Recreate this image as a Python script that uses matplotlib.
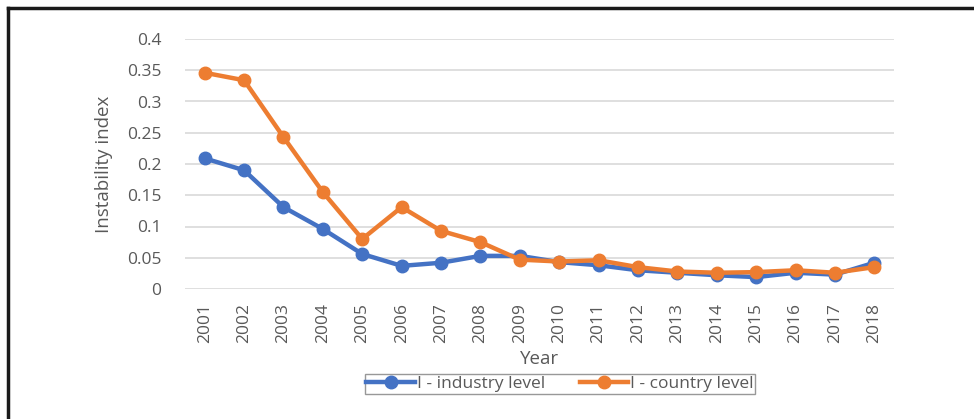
import matplotlib
matplotlib.use("Agg")
import matplotlib.pyplot as plt
from matplotlib.lines import Line2D

years = [str(y) for y in range(2001, 2019)]
industry = [0.209, 0.190, 0.131, 0.096, 0.056, 0.037, 0.042, 0.053, 0.053,
            0.043, 0.038, 0.030, 0.026, 0.022, 0.019, 0.026, 0.023, 0.042]
country = [0.346, 0.334, 0.243, 0.155, 0.080, 0.131, 0.093, 0.075, 0.047,
           0.044, 0.046, 0.035, 0.028, 0.026, 0.027, 0.030, 0.026, 0.035]
yticks = [0, 0.05, 0.1, 0.15, 0.2, 0.25, 0.3, 0.35, 0.4]
ytick_labels = ["0", "0.05", "0.1", "0.15", "0.2", "0.25", "0.3", "0.35", "0.4"]

plt.rcParams['font.family'] = ['Open Sans', 'DejaVu Sans']
W, H = 974, 419
fig = plt.figure(figsize=(W / 100, H / 100), dpi=100)
ax = fig.add_axes([185 / W, 1 - 289 / H, (894 - 185) / W, (289 - 39) / H])

x = list(range(len(years)))
ax.plot(x, industry, color='#4472C4', lw=3.2, marker='o', ms=9, label='I - industry level', zorder=3)
ax.plot(x, country, color='#ED7D31', lw=3.2, marker='o', ms=9, label='I - country level', zorder=4)

ax.set_xlim(-0.5, len(years) - 0.5)
ax.set_ylim(0, 0.4)
ax.set_yticks(yticks)
ax.set_yticklabels(ytick_labels)
ax.set_xticks(x)
ax.set_xticklabels(years, rotation=90)
ax.tick_params(axis='both', length=0, labelsize=12.5, colors='#595959')
ax.tick_params(axis='x', pad=10)
ax.tick_params(axis='y', pad=17)
ax.grid(axis='y', color='#d9d9d9', lw=1.2)
ax.set_axisbelow(True)
for s in ax.spines.values():
    s.set_visible(False)
ax.set_ylabel('Instability index', fontsize=13.5, color='#595959', labelpad=10)
ax.set_xlabel('Year', fontsize=13.5, color='#595959', labelpad=5)

leg = fig.legend(loc='center', bbox_to_anchor=(560 / W, 1 - 384 / H), ncol=2,
                 fontsize=12.5, frameon=True, fancybox=False, handlelength=2.8,
                 handletextpad=0.1, columnspacing=2.0, borderpad=0.1,
                 labelcolor='#595959')
leg.get_frame().set_edgecolor('#7f7f7f')
leg.get_frame().set_linewidth(1.0)

# outer black frame (top and left)
fig.add_artist(Line2D([7.5 / W, 1], [1 - 8.5 / H, 1 - 8.5 / H], color='#1a1a1a', lw=2.5, transform=fig.transFigure))
fig.add_artist(Line2D([7.5 / W, 7.5 / W], [0, 1 - 8.5 / H], color='#1a1a1a', lw=2.5, transform=fig.transFigure))

fig.savefig('out.png', dpi=100)
